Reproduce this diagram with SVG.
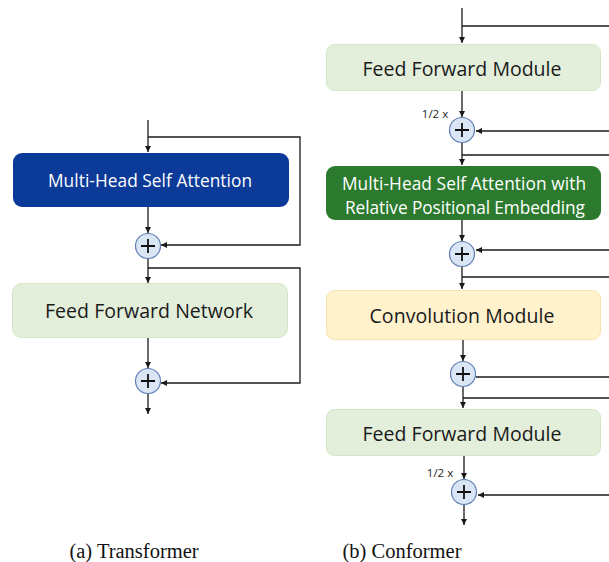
<svg xmlns="http://www.w3.org/2000/svg" width="609" height="562" viewBox="0 0 609 562">
<defs>
<marker id="ah" viewBox="0 0 10 10" refX="10" refY="5" markerWidth="6" markerHeight="6" markerUnits="userSpaceOnUse" orient="auto"><path d="M0,0 L10,5 L0,10 z" fill="#1a1a1a"/></marker>
</defs>
<style>
.ln{stroke:#1a1a1a;stroke-width:1.3;fill:none}
.ar{marker-end:url(#ah)}
.sum{fill:#dae5f5;stroke:#5f7fb3;stroke-width:1.2}
.plus{stroke:#111;stroke-width:1.8}
.box{font-family:"Open Sans","Noto Sans","Liberation Sans",sans-serif;text-anchor:middle;dominant-baseline:central}
.cap{font-family:"Liberation Serif","Times New Roman",serif;font-size:20.5px;fill:#111;text-anchor:middle}
.half{font-family:"Open Sans","Liberation Sans",sans-serif;font-size:11.5px;fill:#222;text-anchor:middle}
</style>
<rect width="609" height="562" fill="#fff"/>

<g id="connectors">
<!-- Transformer -->
<line class="ln ar" x1="148" y1="120" x2="148" y2="152"/>
<path class="ln ar" d="M148,137 H300 V245 H161"/>
<line class="ln ar" x1="148" y1="207" x2="148" y2="233"/>
<line class="ln ar" x1="148" y1="258" x2="148" y2="283"/>
<path class="ln ar" d="M148,268 H300 V383 H161"/>
<line class="ln ar" x1="148" y1="338" x2="148" y2="368"/>
<line class="ln ar" x1="148" y1="393" x2="148" y2="414"/>
<!-- Conformer -->
<line class="ln ar" x1="462" y1="8" x2="462" y2="43"/>
<line class="ln" x1="462" y1="26" x2="609" y2="26"/>
<line class="ln ar" x1="462" y1="91" x2="462" y2="117"/>
<line class="ln ar" x1="609" y1="131" x2="476" y2="131"/>
<line class="ln ar" x1="462" y1="143" x2="462" y2="165"/>
<line class="ln" x1="462" y1="155" x2="609" y2="155"/>
<line class="ln ar" x1="462" y1="220" x2="462" y2="241"/>
<line class="ln ar" x1="609" y1="250" x2="476" y2="250"/>
<line class="ln ar" x1="462" y1="267" x2="462" y2="289"/>
<line class="ln" x1="462" y1="277" x2="609" y2="277"/>
<line class="ln ar" x1="463" y1="340" x2="463" y2="361"/>
<line class="ln" x1="609" y1="377" x2="476" y2="377"/>
<line class="ln ar" x1="463" y1="387" x2="463" y2="408"/>
<line class="ln" x1="463" y1="398" x2="609" y2="398"/>
<line class="ln ar" x1="464" y1="456" x2="464" y2="479"/>
<line class="ln ar" x1="609" y1="495" x2="478" y2="495"/>
<line class="ln ar" x1="464" y1="505" x2="464" y2="525"/>
</g>

<g id="t-mhsa">
<rect x="13" y="153" width="276" height="54" rx="9" fill="#0b3a98"/>
<text class="box" x="150" y="180" font-size="17.3" fill="#fff" textLength="204" lengthAdjust="spacing">Multi-Head Self Attention</text>
</g>
<g id="t-sum1">
<circle class="sum" cx="148" cy="246" r="12.5"/>
<path class="plus" d="M141,246 H155 M148,239 V253"/>
</g>
<g id="t-ffn">
<rect x="12.5" y="283.5" width="275" height="54" rx="9" fill="#e3efda" stroke="#d3e6c6"/>
<text class="box" x="149" y="310" font-size="19.5" fill="#1a1a1a" textLength="208" lengthAdjust="spacing">Feed Forward Network</text>
</g>
<g id="t-sum2">
<circle class="sum" cx="148" cy="381" r="12.5"/>
<path class="plus" d="M141,381 H155 M148,374 V388"/>
</g>

<g id="c-ffm1">
<rect x="326.5" y="44.5" width="274" height="46" rx="8" fill="#e3efda" stroke="#d3e6c6"/>
<text class="box" x="462" y="68" font-size="19.5" fill="#1a1a1a" textLength="199" lengthAdjust="spacing">Feed Forward Module</text>
</g>
<text class="half" x="435" y="118">1/2 x</text>
<g id="c-sum1">
<circle class="sum" cx="462" cy="130" r="12.5"/>
<path class="plus" d="M455,130 H469 M462,123 V137"/>
</g>
<g id="c-mhsa">
<rect x="326" y="166" width="275" height="54" rx="9" fill="#2b7a2e"/>
<text class="box" x="464" y="183" font-size="17.3" fill="#fff" textLength="244" lengthAdjust="spacing">Multi-Head Self Attention with</text>
<text class="box" x="465" y="207" font-size="17.3" fill="#fff" textLength="240" lengthAdjust="spacing">Relative Positional Embedding</text>
</g>
<g id="c-sum2">
<circle class="sum" cx="462" cy="254" r="12.5"/>
<path class="plus" d="M455,254 H469 M462,247 V261"/>
</g>
<g id="c-conv">
<rect x="326.5" y="290.5" width="274" height="49" rx="8" fill="#fff2cc" stroke="#f7e3b0"/>
<text class="box" x="462" y="315" font-size="19.5" fill="#1a1a1a" textLength="185" lengthAdjust="spacing">Convolution Module</text>
</g>
<g id="c-sum3">
<circle class="sum" cx="463" cy="374" r="12.5"/>
<path class="plus" d="M456,374 H470 M463,367 V381"/>
</g>
<g id="c-ffm2">
<rect x="326.5" y="409.5" width="274" height="46" rx="8" fill="#e3efda" stroke="#d3e6c6"/>
<text class="box" x="462" y="433" font-size="19.5" fill="#1a1a1a" textLength="199" lengthAdjust="spacing">Feed Forward Module</text>
</g>
<text class="half" x="440" y="477">1/2 x</text>
<g id="c-sum4">
<circle class="sum" cx="464" cy="492" r="12.5"/>
<path class="plus" d="M457,492 H471 M464,485 V499"/>
</g>

<text class="cap" x="134" y="558">(a) Transformer</text>
<text class="cap" x="402" y="558">(b) Conformer</text>
</svg>
